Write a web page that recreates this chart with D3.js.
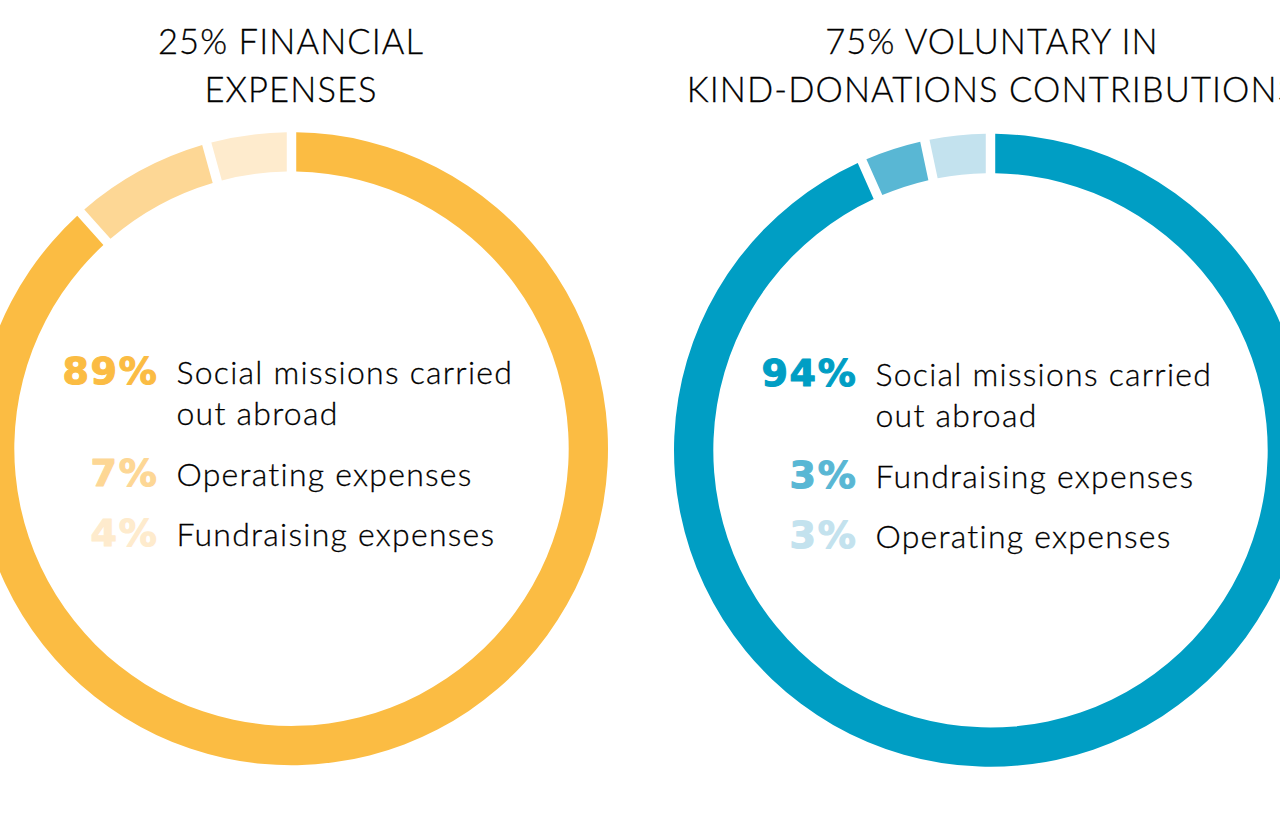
<!DOCTYPE html>
<html>
<head>
<meta charset="utf-8">
<script src="https://cdn.jsdelivr.net/npm/d3@7"></script>
<style>
  html, body { margin: 0; padding: 0; background: #fff; overflow: hidden; }
  svg { display: block; }
</style>
</head>
<body>
<svg id="chart" width="1280" height="839"></svg>
<script>
// ---- Data ----
const leftTitle = ["25% FINANCIAL", "EXPENSES"];
const leftCategories = [["Social missions carried", "out abroad"], ["Operating expenses"], ["Fundraising expenses"]];
const leftValues = [89, 7, 4];
const leftColors = ["#FBBC43", "#FDD795", "#FEEBCD"];

const rightTitle = ["75% VOLUNTARY IN", "KIND-DONATIONS CONTRIBUTIONS"];
const rightCategories = [["Social missions carried", "out abroad"], ["Fundraising expenses"], ["Operating expenses"]];
const rightValues = [94, 3, 3];
const rightColors = ["#009EC4", "#59B7D4", "#C3E2EE"];

// ---- Layout ----
const svg = d3.select("#chart");
svg.append("rect").attr("width", 1280).attr("height", 839).attr("fill", "#fff");

const outerR = 316.5, innerR = 277.2;
const charts = [
  { cx: 291.5, cy: 448.7, tx: 291, title: leftTitle, cats: leftCategories, vals: leftValues, colors: leftColors },
  { cx: 990.5, cy: 450.3, tx: 992, title: rightTitle, cats: rightCategories, vals: rightValues, colors: rightColors }
];

const pie = d3.pie().sort(null).value(d => d).padAngle(0.0225);
const arc = d3.arc().innerRadius(innerR).outerRadius(outerR);

charts.forEach(c => {
  // title
  const t = svg.append("g");
  c.title.forEach((line, i) => {
    t.append("text")
      .attr("x", c.tx).attr("y", 54 + i * 47.7)
      .attr("text-anchor", "middle")
      .attr("font-family", "Lato, 'Noto Sans', sans-serif")
      .attr("font-size", 34.5)
      .attr("font-weight", 300)
      .attr("letter-spacing", 1.1)
      .attr("fill", "#000")
      .attr("stroke", "#000")
      .attr("stroke-width", 0.3)
      .text(line);
  });

  const g = svg.append("g").attr("transform", `translate(${c.cx},${c.cy})`);
  g.selectAll("path.seg")
    .data(pie(c.vals))
    .join("path")
    .attr("class", "seg")
    .attr("d", arc)
    .attr("fill", (d, i) => c.colors[i]);

  // labels
  const rowY = [-64.7, 37.3, 97.3];
  c.vals.forEach((v, i) => {
    g.append("text")
      .attr("x", -133).attr("y", rowY[i])
      .attr("text-anchor", "end")
      .attr("font-family", "'DejaVu Sans', sans-serif")
      .attr("font-weight", 700)
      .attr("font-size", 38)
      .attr("letter-spacing", 1.7)
      .attr("fill", c.colors[i])
      .attr("stroke", c.colors[i])
      .attr("stroke-width", 1.1)
      .attr("stroke-linejoin", "round")
      .text(v + "%");
    c.cats[i].forEach((line, j) => {
      g.append("text")
        .attr("x", -115).attr("y", rowY[i] + j * 41)
        .attr("font-family", "Lato, 'Noto Sans', sans-serif")
        .attr("font-size", 32)
        .attr("font-weight", 300)
        .attr("letter-spacing", 1.25)
        .attr("fill", "#000")
        .attr("stroke", "#000")
        .attr("stroke-width", 0.3)
        .text(line);
    });
  });
});
</script>
</body>
</html>
